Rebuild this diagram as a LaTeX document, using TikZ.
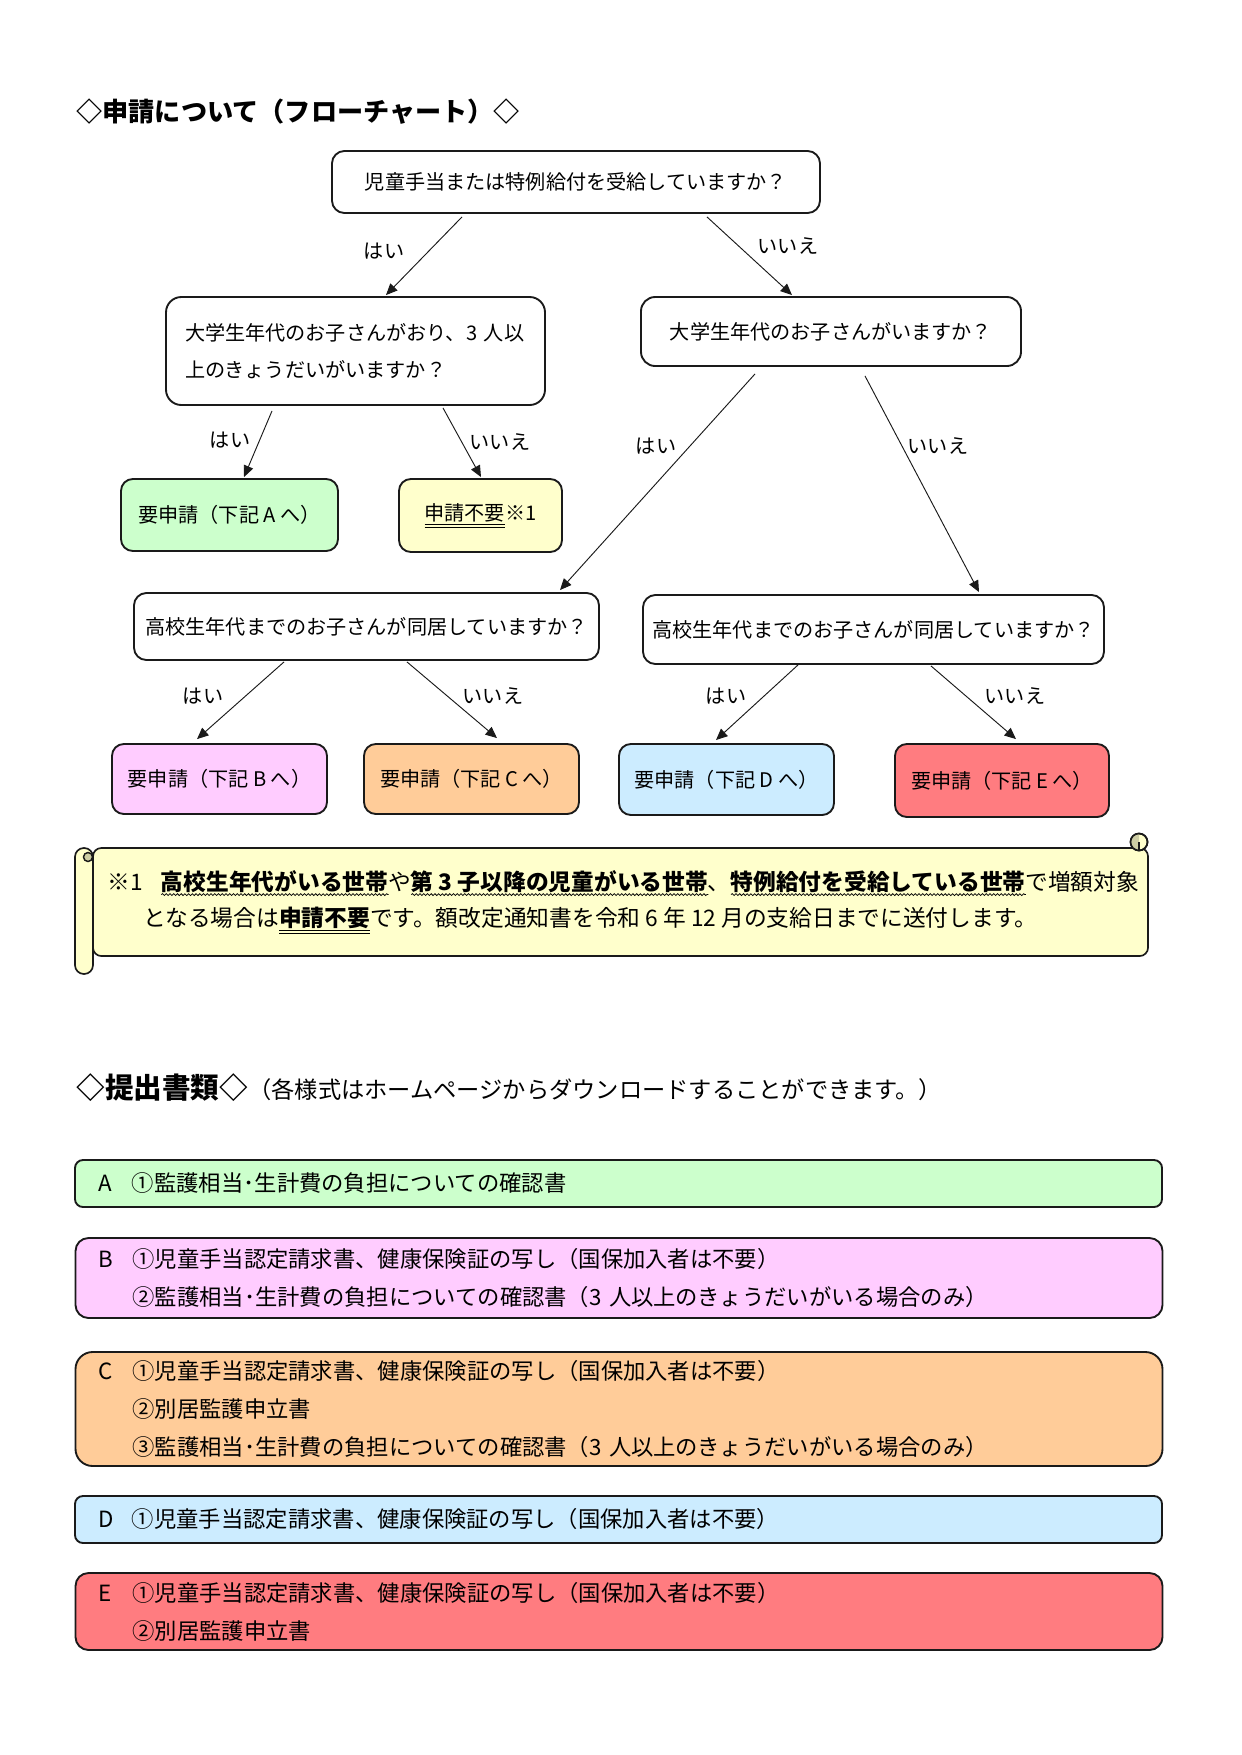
\documentclass[tikz,border=0pt]{standalone}
\usepackage{fontspec}
\setmainfont{Noto Sans CJK JP}
\usetikzlibrary{arrows.meta,calc,decorations.pathmorphing}
\newdimen\PX \PX=0.16933mm
\newsavebox\ulbox
\newlength\ulw
\newcommand\wul[1]{\sbox\ulbox{#1}\setlength\ulw{\wd\ulbox}\rlap{\raisebox{-2.8pt}{\tikz\draw[line width=0.35pt,decorate,decoration={snake,amplitude=0.45pt,segment length=1.8pt}] (0pt,0pt) -- (\ulw,0pt);}}\usebox\ulbox}
\newcommand\dul[1]{\sbox\ulbox{#1}\setlength\ulw{\wd\ulbox}\rlap{\rule[-2.3pt]{\ulw}{0.4pt}}\rlap{\rule[-3.5pt]{\ulw}{0.4pt}}\usebox\ulbox}
\newcommand\fsA{\fontsize{9.7}{17.8}\selectfont}
\newcommand\fsB{\fontsize{10.75}{18.2}\selectfont}
\newcommand\fsS{\fontsize{10.95}{18.2}\selectfont}
\definecolor{cA}{HTML}{CCFFCC}
\definecolor{cB}{HTML}{FFCCFF}
\definecolor{cC}{HTML}{FFCC99}
\definecolor{cD}{HTML}{CCECFF}
\definecolor{cE}{HTML}{FF7C80}
\definecolor{cY}{HTML}{FFFFCC}
\definecolor{cYd}{HTML}{CDCDA4}
\definecolor{ln}{HTML}{1A1A1A}
\tikzset{
  qbox/.style={draw=ln, line width=0.9pt, rounded corners=2.1mm, fill=white, align=center, inner sep=0pt, font=\fsA},
  rbox/.style={draw=ln, line width=0.9pt, rounded corners=2mm, align=center, inner sep=0pt, font=\fsA},
  arr/.style={line width=0.45pt, draw=ln, -{Triangle[length=5.5pt,width=4.8pt]}},
  lbl/.style={font=\fsA, inner sep=0pt},
  lst/.style={draw=ln, line width=0.9pt, align=left, inner xsep=23\PX, inner ysep=0pt, text width=1041\PX, font=\fsB},
  scr/.style={draw=ln, line width=0.8pt, fill=cY},
}
\begin{document}
\begin{tikzpicture}[x=0.16933mm, y=-0.16933mm]
\useasboundingbox (0,0) rectangle (1241,1755);
\fill[white] (0,0) rectangle (1241,1755);

% titles
\node[anchor=west, inner sep=0pt, font=\fontsize{12.6}{15}\selectfont\bfseries] (t1) at (76,112) {◇申請について（フローチャート）◇};

% flowchart
\node[qbox, minimum width=488\PX, minimum height=62\PX] (q1) at (576,182) {児童手当または特例給付を受給していますか？};
\node[qbox, rounded corners=2.6mm, minimum width=379\PX, minimum height=108\PX, align=left, text width=341\PX] (q2L) at (355.5,351) {大学生年代のお子さんがおり、3 人以\\上のきょうだいがいますか？};
\node[qbox, rounded corners=2.4mm, minimum width=380\PX, minimum height=69\PX] (q2R) at (831,331.5) {大学生年代のお子さんがいますか？};
\node[rbox, fill=cA, minimum width=217\PX, minimum height=72\PX] (rA) at (229.5,515) {要申請（下記 A へ）};
\node[rbox, fill=cY, minimum width=163\PX, minimum height=73\PX] (rN) at (480.5,515.5) {\dul{申請不要}※1};
\node[qbox, minimum width=465\PX, minimum height=67\PX] (q3L) at (366.5,626.5) {高校生年代までのお子さんが同居していますか？};
\node[qbox, minimum width=461\PX, minimum height=69\PX] (q3R) at (873.5,629.5) {高校生年代までのお子さんが同居していますか？};
\node[rbox, fill=cB, minimum width=215\PX, minimum height=70\PX] (rB) at (219.5,779) {要申請（下記 B へ）};
\node[rbox, fill=cC, minimum width=215\PX, minimum height=70\PX] (rC) at (471.5,779) {要申請（下記 C へ）};
\node[rbox, fill=cD, minimum width=215\PX, minimum height=71\PX] (rD) at (726.5,779.5) {要申請（下記 D へ）};
\node[rbox, fill=cE, minimum width=214\PX, minimum height=73\PX] (rE) at (1002,780.5) {要申請（下記 E へ）};

\draw[arr] ($(q1.south)+(-114,3)$) -- ($(q2L.north)+(30.5,-1)$);
\draw[arr] ($(q1.south)+(131,3)$) -- ($(q2R.north)+(-39,-1)$);
\draw[arr] ($(q2L.south)+(-83.5,5)$) -- ($(rA.north)+(14.5,-1)$);
\draw[arr] ($(q2L.south)+(87.5,2)$) -- ($(rN.north)+(0.5,-1)$);
\draw[arr] ($(q2R.south)+(-76,7)$) -- ($(q3L.north)+(193.5,-2)$);
\draw[arr] ($(q2R.south)+(34,9)$) -- ($(q3R.north)+(105.5,-2)$);
\draw[arr] ($(q3L.south)+(-82.5,1)$) -- ($(rB.north)+(-22.5,-4)$);
\draw[arr] ($(q3L.south)+(40.5,1)$) -- ($(rC.north)+(25.5,-5)$);
\draw[arr] ($(q3R.south)+(-75.5,0)$) -- ($(rD.north)+(-10.5,-3)$);
\draw[arr] ($(q3R.south)+(57.5,1)$) -- ($(rE.north)+(14,-4)$);

\node[lbl] (l1) at (384,251) {はい};
\node[lbl] (l2) at (788,246) {いいえ};
\node[lbl] (l3) at (230,440) {はい};
\node[lbl] (l4) at (500,442) {いいえ};
\node[lbl] (l5) at (656,446) {はい};
\node[lbl] (l6) at (938,446) {いいえ};
\node[lbl] (l7) at (203,696) {はい};
\node[lbl] (l8) at (493,696) {いいえ};
\node[lbl] (l9) at (726,696) {はい};
\node[lbl] (l10) at (1015,696) {いいえ};

% scroll
\draw[scr, rounded corners=1.4mm] (93,848) rectangle (1148,956);
\draw[scr, rounded corners=1.5mm] (75,848) rectangle (93,974);
\draw[line width=0.7pt, draw=ln, fill=cYd] (88,857) circle[radius=4.5];
\draw[line width=0.8pt, draw=ln, fill=cY] (1139,842) circle[radius=8.5];
\fill[cYd] (1139,842) -- (1139,833.5) arc[start angle=-90, end angle=-270, radius=8.5] -- cycle;
\draw[line width=0.8pt, draw=ln] (1139,842) circle[radius=8.5];
\draw[line width=0.7pt, draw=ln] (1139,842) -- (1139,850.5);

\node[anchor=west, font=\fsS, inner sep=0pt] (s1) at (107,883) {※1\hspace{0.8em}\wul{\bfseries 高校生年代がいる世帯}や\wul{\bfseries 第 3 子以降の児童がいる世帯}、\wul{\bfseries 特例給付を受給している世帯}で増額対象};
\node[anchor=west, font=\fsS, inner sep=0pt] (s2) at (143,920) {となる場合は\dul{\bfseries 申請不要}です。額改定通知書を令和 6 年 12 月の支給日までに送付します。};

% documents
\node[anchor=west, inner sep=0pt] (t2) at (76,1088) {{\fontsize{13.8}{15}\selectfont\bfseries ◇提出書類◇}{\fontsize{11.2}{15}\selectfont （各様式はホームページからダウンロードすることができます。）}};

\node[lst, fill=cA, rounded corners=1.35mm, minimum height=47\PX] (LA) at (618.5,1183.5) {\makebox[34\PX][l]{A}①監護相当･生計費の負担についての確認書};
\node[lst, fill=cB, rounded corners=2.2mm, minimum height=80\PX] (LB) at (619,1278) {\makebox[34\PX][l]{B}①児童手当認定請求書、健康保険証の写し（国保加入者は不要）\\\hspace*{34\PX}②監護相当･生計費の負担についての確認書（3 人以上のきょうだいがいる場合のみ）};
\node[lst, fill=cC, rounded corners=2.9mm, minimum height=114\PX] (LC) at (619,1409) {\makebox[34\PX][l]{C}①児童手当認定請求書、健康保険証の写し（国保加入者は不要）\\\hspace*{34\PX}②別居監護申立書\\\hspace*{34\PX}③監護相当･生計費の負担についての確認書（3 人以上のきょうだいがいる場合のみ）};
\node[lst, fill=cD, rounded corners=1.35mm, minimum height=47\PX] (LD) at (618.5,1519.5) {\makebox[34\PX][l]{D}①児童手当認定請求書、健康保険証の写し（国保加入者は不要）};
\node[lst, fill=cE, rounded corners=2.2mm, minimum height=77\PX] (LE) at (619,1611.5) {\makebox[34\PX][l]{E}①児童手当認定請求書、健康保険証の写し（国保加入者は不要）\\\hspace*{34\PX}②別居監護申立書};
\end{tikzpicture}
\end{document}
